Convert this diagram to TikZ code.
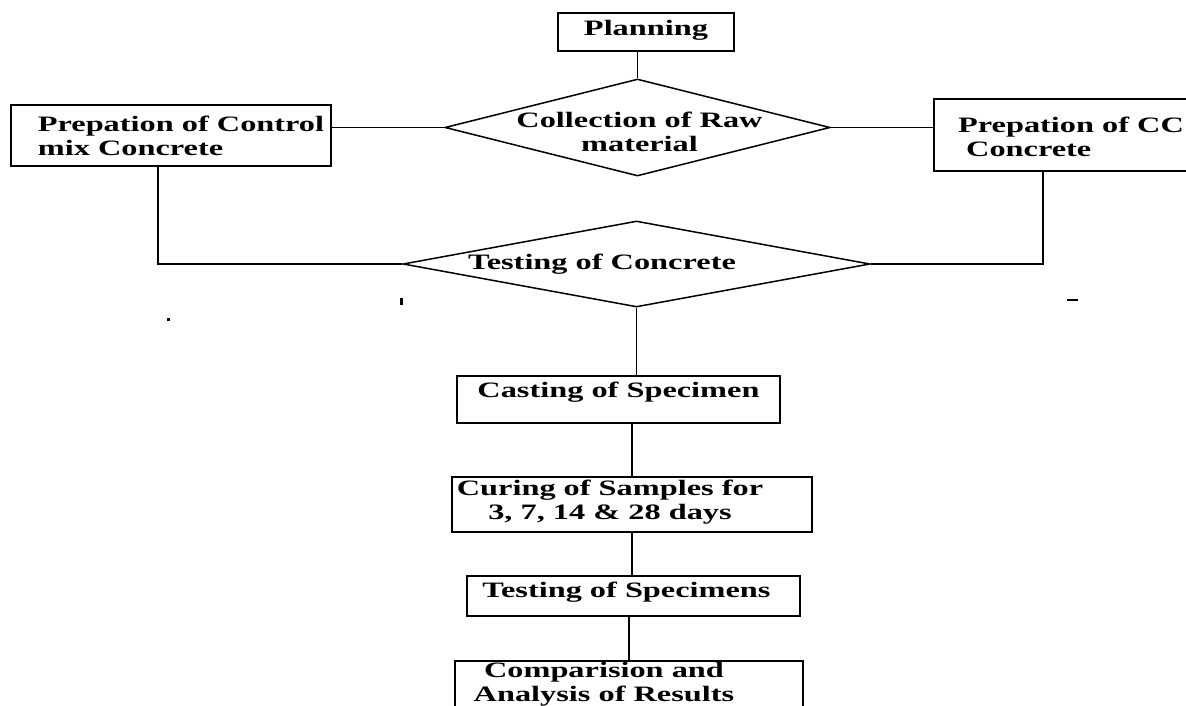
\documentclass[tikz,border=0pt]{standalone}
\usepackage{fontspec}
\setmainfont{Liberation Serif}[FakeStretch=1.47]
\usetikzlibrary{shapes.geometric}

\begin{document}
\begin{tikzpicture}[x=1pt,y=-1pt,line width=1.8pt,
  font=\fontsize{22}{24}\selectfont\bfseries,
  stepbox/.style={draw,rectangle,inner sep=0pt},
  decision/.style={draw,diamond,inner sep=0pt,line width=1.5pt}]
  \useasboundingbox (0,0) rectangle (1186,706);
  \clip (0,0) rectangle (1186,706);
  \node[stepbox,minimum width=176pt,minimum height=38pt,
    label={[yshift=2pt]center:Planning}] (plan) at (646,32) {};
  \node[decision,minimum width=385pt,minimum height=97pt,
    label={[align=center,xshift=2pt,yshift=-4pt]center:{Collection of Raw\\material}}]
    (raw) at (637.5,127.5) {};
  \node[stepbox,minimum width=320pt,minimum height=61pt,
    label={[align=left,xshift=10pt]center:{Prepation of Control\\mix Concrete}}]
    (ctrl) at (171,135.5) {};
  \node[stepbox,minimum width=266pt,minimum height=72pt,
    label={[align=left,xshift=4pt,yshift=-2pt]center:{Prepation of CC\\~Concrete}}]
    (cc) at (1067,135) {};
  \node[decision,minimum width=467pt,minimum height=86pt,
    label={[xshift=-34.5pt]center:Testing of Concrete}] (testc) at (636.5,264) {};
  \node[stepbox,minimum width=323pt,minimum height=47pt,
    label={[yshift=7.5pt]center:Casting of Specimen}] (cast) at (618.5,399.5) {};
  \node[stepbox,minimum width=360pt,minimum height=55pt,
    label={[align=center,xshift=-22pt,yshift=2.5pt]center:{Curing of Samples for\\3, 7, 14 \& 28 days}}]
    (cure) at (632,504.5) {};
  \node[stepbox,minimum width=333pt,minimum height=40pt,
    label={[xshift=-7pt,yshift=4pt]center:Testing of Specimens}] (tspec) at (633.5,596) {};
  \node[stepbox,minimum width=348pt,minimum height=78pt,
    label={[align=center,xshift=-25pt,yshift=15.5pt]center:{Comparision and\\Analysis of Results}}]
    (comp) at (629,700) {};
  \draw (raw.north) -- (raw.north |- plan.south);
  \draw (ctrl.east |- raw.west) -- (raw.west);
  \draw (raw.east) -- (raw.east -| cc.west);
  \draw ([xshift=-13pt]ctrl.south) |- (testc.west);
  \draw ([xshift=-24pt]cc.south) |- (testc.east);
  \draw (testc.south) -- (testc.south |- cast.north);
  \draw (cure.north |- cast.south) -- (cure.north);
  \draw (cure.south) -- (cure.south |- tspec.north);
  \draw (comp.north |- tspec.south) -- (comp.north);
  \fill (167,318) rectangle (169.5,321);
  \fill (400,298) rectangle (402.5,305);
  \fill (1067,299) rectangle (1078,301);
\end{tikzpicture}
\end{document}
